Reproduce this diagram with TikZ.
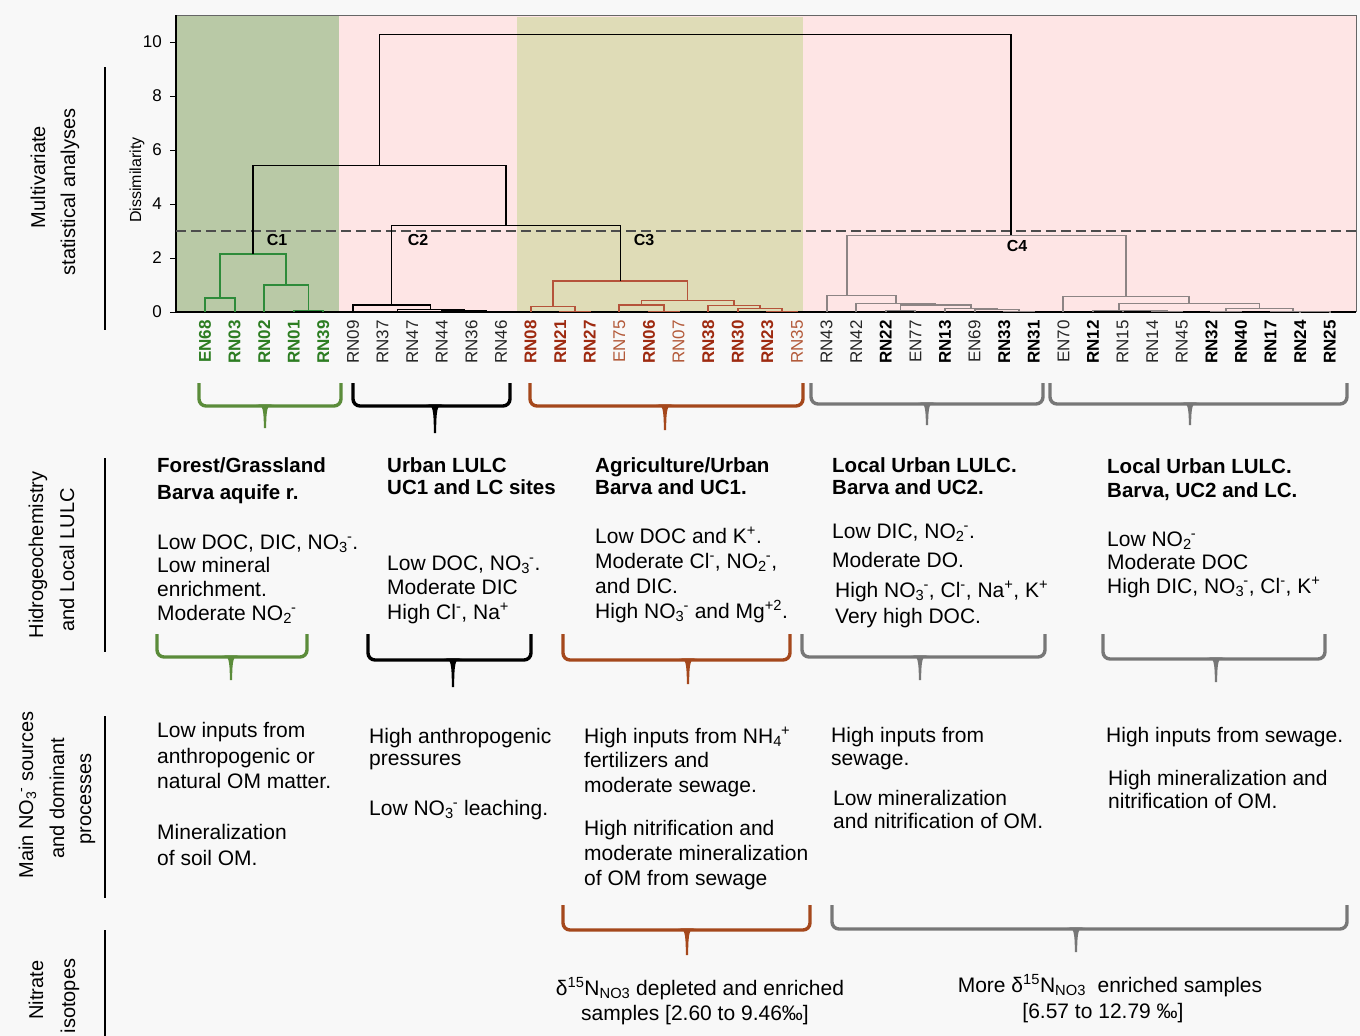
\documentclass[tikz,border=0pt]{standalone}
\usepackage{fontspec}
\setmainfont{Liberation Sans}
\definecolor{pagebg}{HTML}{F8F8F8}
\definecolor{greenbg}{HTML}{B9C9A6}
\definecolor{pinkbg}{HTML}{FEE5E5}
\definecolor{khakibg}{HTML}{DFDCB7}
\definecolor{dgreen}{HTML}{2E8B3A}
\definecolor{lgreen}{HTML}{2D7D22}
\definecolor{dbrown}{HTML}{B5533A}
\definecolor{lbrown}{HTML}{9E2A10}
\definecolor{libr}{HTML}{B35A3A}
\definecolor{dgray}{HTML}{8C8484}
\definecolor{bgreen}{HTML}{5B8C3A}
\definecolor{bbrown}{HTML}{A5481C}
\definecolor{bgray}{HTML}{777777}
\newcommand\ssp[2]{\textsubscript{#1}\kern-0.04em\textsuperscript{#2}}
\newcommand\mrg[6][black]{\draw[dendro,#1] (#2,{312-27*(#3)}) |- (#4,{312-27*(#6)}) -- (#4,{312-27*(#5)});}
\newcommand\brc[7]{%
  \draw[#1,line width=3.4pt,rounded corners=7pt] (#2,#5) -- (#2,#6) -- (#3,#6) -- (#3,#5);
  \fill[#1] ({#4-9},{#6-1.7}) .. controls ({#4-2},{#6-1.7}) and ({#4-1.4},{#6+3}) .. ({#4-1.1},#7) -- ({#4+1.1},#7) .. controls ({#4+1.4},{#6+3}) and ({#4+2},{#6-1.7}) .. ({#4+9},{#6-1.7}) -- cycle;}
\tikzset{
  dendro/.style={line width=1.1pt},
  labbase/.style={rotate=90,anchor=east,inner sep=0pt,font=\fontsize{17}{17}\selectfont},
  labG/.style={labbase,text=lgreen,font=\fontsize{17}{17}\selectfont\bfseries},
  labB/.style={labbase,text=lbrown,font=\fontsize{17}{17}\selectfont\bfseries},
  labBl/.style={labbase,text=libr},
  labK/.style={labbase,text=black!85},
  labKb/.style={labbase,text=black,font=\fontsize{17}{17}\selectfont\bfseries},
  txt/.style={anchor=base west,inner sep=0pt,font=\fontsize{21}{25}\selectfont},
  hd/.style={anchor=base west,inner sep=0pt,font=\fontsize{20.5}{25}\selectfont\bfseries},
  ctxt/.style={anchor=base,inner sep=0pt,font=\fontsize{21}{25}\selectfont},
  side/.style={anchor=base,rotate=90,inner sep=0pt,font=\fontsize{20}{24}\selectfont},
  clab/.style={inner sep=0pt,font=\fontsize{16}{16}\selectfont\bfseries},
  tick/.style={anchor=east,inner sep=0pt,font=\fontsize{17}{17}\selectfont},
  sideline/.style={line width=2.2pt}
}
\begin{document}
\begin{tikzpicture}[x=1pt,y=-1pt]
\fill[pagebg] (0,0) rectangle (1360,1036);
\useasboundingbox (0,0) rectangle (1360,1036);
% plot backgrounds
\fill[pinkbg] (176,15) rectangle (1356,312);
\fill[greenbg] (176,15) rectangle (339,312);
\fill[khakibg] (517,17) rectangle (803,312);
\draw[black!60,line width=1pt] (176,15) -- (1356,15) -- (1356,312);
\draw[black,line width=1.2pt] (176,15) -- (176,312) -- (1356,312);
% axis
\foreach \v in {0,2,4,6,8,10}{
  \draw[line width=1pt] (170,{312-27*\v}) -- (176,{312-27*\v});
  \node[tick] (tk\v) at (162,{312-27*\v}) {\v};
}
\node[rotate=90,inner sep=0pt,font=\fontsize{16}{16}\selectfont] (dis) at (137,180) {Dissimilarity};
% cut line
\draw[black!70,line width=1.3pt,dash pattern=on 10pt off 5pt] (176,231) -- (1356,231);
% C1
\mrg[dgreen]{205}{0}{235}{0}{0.52}
\mrg[dgreen]{294}{0}{323}{0}{0.07}
\mrg[dgreen]{264}{0}{308.5}{0.07}{1.0}
\mrg[dgreen]{220}{0.52}{286}{1.0}{2.15}
% C2
\mrg{383}{0}{412}{0}{0.02}
\mrg{471}{0}{501}{0}{0.02}
\mrg{442}{0}{486}{0.02}{0.04}
\mrg{397.5}{0.02}{464}{0.04}{0.08}
\mrg{353}{0}{430.75}{0.08}{0.26}
% C3
\mrg[dbrown]{560}{0}{590}{0}{0.03}
\mrg[dbrown]{531}{0}{575}{0.03}{0.22}
\mrg[dbrown]{649}{0}{679}{0}{0.03}
\mrg[dbrown]{619}{0}{664}{0.03}{0.26}
\mrg[dbrown]{767}{0}{797}{0}{0.03}
\mrg[dbrown]{738}{0}{782}{0.03}{0.14}
\mrg[dbrown]{708}{0}{760}{0.14}{0.25}
\mrg[dbrown]{641.5}{0.26}{734}{0.25}{0.44}
\mrg[dbrown]{553}{0.22}{687.75}{0.44}{1.15}
% C4
\mrg[dgray]{886}{0}{915}{0}{0.05}
\mrg[dgray]{1004}{0}{1034}{0}{0.02}
\mrg[dgray]{975}{0}{1019}{0.02}{0.09}
\mrg[dgray]{945}{0}{997}{0.09}{0.13}
\mrg[dgray]{900.5}{0.05}{971}{0.13}{0.26}
\mrg[dgray]{856}{0}{935.75}{0.26}{0.3}
\mrg[dgray]{827}{0}{896}{0.3}{0.6}
\mrg[dgray]{1152}{0}{1182}{0}{0.03}
\mrg[dgray]{1123}{0}{1167}{0.03}{0.05}
\mrg[dgray]{1093}{0}{1145}{0.05}{0.07}
\mrg[dgray]{1300}{0}{1330}{0}{0.01}
\mrg[dgray]{1271}{0}{1315}{0.01}{0.03}
\mrg[dgray]{1211}{0}{1241}{0}{0.02}
\mrg[dgray]{1226}{0.02}{1293}{0.03}{0.14}
\mrg[dgray]{1119}{0.07}{1259.5}{0.14}{0.3}
\mrg[dgray]{1063}{0}{1189}{0.3}{0.59}
% upper joins
\mrg{391.9}{0.26}{620.4}{1.15}{3.2}
\mrg{253}{2.15}{506}{3.2}{5.44}
\mrg[dgray]{847}{0.6}{1126}{0.59}{2.85}
\mrg{379.5}{5.44}{1011}{2.85}{10.27}
% cluster labels
\node[clab] (c1) at (277,240) {C1};
\node[clab] (c2) at (418,240) {C2};
\node[clab] (c3) at (644,240) {C3};
\node[clab] (c4) at (1017,246) {C4};
% leaf labels
\foreach \i/\lab/\sty in {0/EN68/labG,1/RN03/labG,2/RN02/labG,3/RN01/labG,4/RN39/labG,
  5/RN09/labK,6/RN37/labK,7/RN47/labK,8/RN44/labK,9/RN36/labK,10/RN46/labK,
  11/RN08/labB,12/RN21/labB,13/RN27/labB,14/EN75/labBl,15/RN06/labB,16/RN07/labBl,17/RN38/labB,18/RN30/labB,19/RN23/labB,20/RN35/labBl,
  21/RN43/labK,22/RN42/labK,23/RN22/labKb,24/EN77/labK,25/RN13/labKb,26/EN69/labK,27/RN33/labKb,28/RN31/labKb,
  29/EN70/labK,30/RN12/labKb,31/RN15/labK,32/RN14/labK,33/RN45/labK,34/RN32/labKb,35/RN40/labKb,36/RN17/labKb,37/RN24/labKb,38/RN25/labKb}{
  \node[\sty] (leaf\i) at ({205+29.6*\i},320) {\lab};
}
% side labels
\node[side] (s1a) at (45,177) {Multivariate};
\node[side] (s1b) at (75,192) {statistical analyses};
\node[side] (s2a) at (43,555) {Hidrogeochemistry};
\node[side] (s2b) at (74,560) {and Local LULC};
\node[side] (s3a) at (33,795) {Main NO\ssp{3}{-} sources};
\node[side] (s3b) at (64,798) {and dominant};
\node[side] (s3c) at (91,799) {processes};
\node[side] (s4a) at (43,990) {Nitrate};
\node[side] (s4b) at (75,996) {isotopes};
\draw[sideline] (105,67) -- (105,330);
\draw[sideline] (105,458) -- (105,652);
\draw[sideline] (105,716) -- (105,898);
\draw[sideline] (105,930) -- (105,1036);
% braces row 1
\brc{bgreen}{199}{341}{265}{383}{406}{428}
\brc{black}{353}{510}{435}{383}{406}{433}
\brc{bbrown}{530}{803}{665}{383}{406}{430}
\brc{bgray}{811}{1043}{927}{383}{404}{425}
\brc{bgray}{1050}{1347}{1190}{383}{404}{425}
% braces row 2
\brc{bgreen}{157}{307}{231}{634}{657}{680}
\brc{black}{368}{531}{453}{634}{660}{687}
\brc{bbrown}{563}{790}{688}{634}{660}{684}
\brc{bgray}{802}{1045}{920}{634}{657}{680}
\brc{bgray}{1103}{1325}{1216}{634}{659}{682}
% braces row 3
\brc{bbrown}{563}{810}{687}{905}{930}{955}
\brc{bgray}{832}{1347}{1076}{905}{929}{952}
% row 2 text
\node[hd] (h1a) at (157,472) {Forest/Grassland};
\node[hd] (h1b) at (157,499) {Barva aquife r.};
\node[txt] (t1a) at (157,549) {Low DOC, DIC, NO\ssp{3}{-}.};
\node[txt] (t1b) at (157,572) {Low mineral};
\node[txt] (t1c) at (157,596) {enrichment.};
\node[txt] (t1d) at (157,620) {Moderate NO\ssp{2}{-}};
\node[hd] (h2a) at (387,472) {Urban LULC};
\node[hd] (h2b) at (387,494) {UC1 and LC sites};
\node[txt] (t2a) at (387,570) {Low DOC, NO\ssp{3}{-}.};
\node[txt] (t2b) at (387,594) {Moderate DIC};
\node[txt] (t2c) at (387,619) {High Cl\textsuperscript{-}, Na\textsuperscript{+}};
\node[hd] (h3a) at (595,472) {Agriculture/Urban};
\node[hd] (h3b) at (595,494) {Barva and UC1.};
\node[txt] (t3a) at (595,543) {Low DOC and K\textsuperscript{+}.};
\node[txt] (t3b) at (595,568) {Moderate Cl\textsuperscript{-}, NO\ssp{2}{-},};
\node[txt] (t3c) at (595,593) {and DIC.};
\node[txt] (t3d) at (595,618) {High NO\ssp{3}{-} and Mg\textsuperscript{+2}.};
\node[hd] (h4a) at (832,472) {Local Urban LULC.};
\node[hd] (h4b) at (832,494) {Barva and UC2.};
\node[txt] (t4a) at (832,538) {Low DIC, NO\ssp{2}{-}.};
\node[txt] (t4b) at (832,567) {Moderate DO.};
\node[txt] (t4c) at (835,597) {High NO\ssp{3}{-}, Cl\textsuperscript{-}, Na\textsuperscript{+}, K\textsuperscript{+}};
\node[txt] (t4d) at (835,623) {Very high DOC.};
\node[hd] (h5a) at (1107,473) {Local Urban LULC.};
\node[hd] (h5b) at (1107,497) {Barva, UC2 and LC.};
\node[txt] (t5a) at (1107,546) {Low NO\ssp{2}{-}};
\node[txt] (t5b) at (1107,569) {Moderate DOC};
\node[txt] (t5c) at (1107,593) {High DIC, NO\ssp{3}{-}, Cl\textsuperscript{-}, K\textsuperscript{+}};
% row 3 text
\node[txt] (p1a) at (157,737) {Low inputs from};
\node[txt] (p1b) at (157,763) {anthropogenic or};
\node[txt] (p1c) at (157,788) {natural OM matter.};
\node[txt] (p1d) at (157,839) {Mineralization};
\node[txt] (p1e) at (157,865) {of soil OM.};
\node[txt] (p2a) at (369,743) {High anthropogenic};
\node[txt] (p2b) at (369,765) {pressures};
\node[txt] (p2c) at (369,815) {Low NO\ssp{3}{-} leaching.};
\node[txt] (p3a) at (584,743) {High inputs from NH\ssp{4}{+}};
\node[txt] (p3b) at (584,767) {fertilizers and};
\node[txt] (p3c) at (584,792) {moderate sewage.};
\node[txt] (p3d) at (584,835) {High nitrification and};
\node[txt] (p3e) at (584,860) {moderate mineralization};
\node[txt] (p3f) at (584,885) {of OM from sewage};
\node[txt] (p4a) at (831,742) {High inputs from};
\node[txt] (p4b) at (831,765) {sewage.};
\node[txt] (p4c) at (833,805) {Low mineralization};
\node[txt] (p4d) at (833,828) {and nitrification of OM.};
\node[txt] (p5a) at (1106,742) {High inputs from sewage.};
\node[txt] (p5b) at (1108,785) {High mineralization and};
\node[txt] (p5c) at (1108,808) {nitrification of OM.};
% row 4 text
\node[ctxt] (i1a) at (700,995) {δ\textsuperscript{15}N\textsubscript{NO3} depleted and enriched};
\node[ctxt] (i1b) at (695,1020) {samples [2.60 to 9.46‰]};
\node[ctxt] (i2a) at (1110,992) {More δ\textsuperscript{15}N\textsubscript{NO3}\ \ enriched samples};
\node[ctxt] (i2b) at (1103,1018) {[6.57 to 12.79 ‰]};
\end{tikzpicture}
\end{document}
